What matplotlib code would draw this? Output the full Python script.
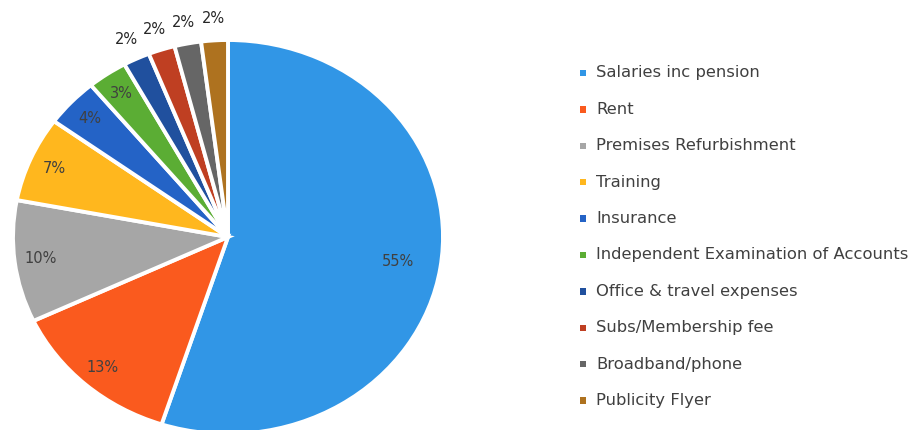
import numpy as np
import matplotlib
matplotlib.use("Agg")
import matplotlib.pyplot as plt

# Expense categories and their share (%)
categories = [
    "Salaries inc pension",
    "Rent",
    "Premises Refurbishment",
    "Training",
    "Insurance",
    "Independent Examination of Accounts",
    "Office & travel expenses",
    "Subs/Membership fee",
    "Broadband/phone",
    "Publicity Flyer",
]
shares = [55, 13, 10, 7, 4, 3, 2, 2, 2, 2]
colors = ["#3196E6", "#FA5A1E", "#A6A6A6", "#FFB71E", "#2463C6",
          "#5BAD34", "#20509E", "#BF3F22", "#666666", "#AE721F"]

W, H = 924, 430
fig = plt.figure(figsize=(W / 100, H / 100), dpi=100)

# pie axes: the original picture is a slightly squashed (elliptical) pie
cx, cy, rx, ry = 228, 237, 215, 197
ax = fig.add_axes([(cx - rx) / W, (H - cy - ry) / H, 2 * rx / W, 2 * ry / H])
wedges, texts, autotexts = ax.pie(
    shares, colors=colors, startangle=90, counterclock=False,
    autopct="%.0f%%", pctdistance=0.88,
    wedgeprops=dict(edgecolor="white", linewidth=2.8),
    textprops=dict(color="#404040", fontsize=10.5),
)
ax.set_aspect("auto")
ax.set_xlim(-1, 1)
ax.set_ylim(-1, 1)
for w in wedges:
    w.set_clip_on(False)

# move the largest label in, the tiny slices' labels outside
for w, t, v in zip(wedges, autotexts, shares):
    ang = np.deg2rad((w.theta1 + w.theta2) / 2)
    if v >= 50:
        r = 0.8
    elif v <= 2:
        r = 1.11
    else:
        r = 0.88
    t.set_position((r * np.cos(ang), r * np.sin(ang)))
    t.set_clip_on(False)
    if v <= 2:
        t.set_color("#262626")

# legend drawn on a full-figure overlay in pixel units
lax = fig.add_axes([0, 0, 1, 1])
lax.set_xlim(0, W)
lax.set_ylim(H, 0)
lax.axis("off")
for i, (name, c) in enumerate(zip(categories, colors)):
    y = 73 + i * 36.4
    lax.scatter([583], [y], marker="s", s=22, color=c, edgecolors="none")
    lax.text(596, y, name, fontsize=11.8, color="#404040", va="center", ha="left")

fig.savefig("out.png", dpi=100)
